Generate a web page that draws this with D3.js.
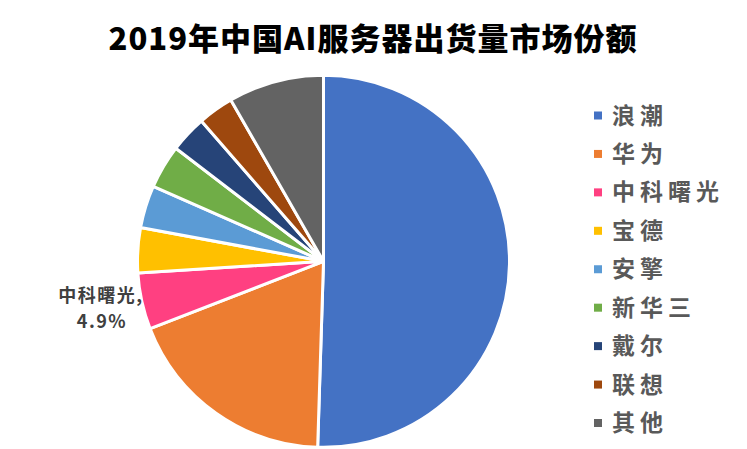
<!DOCTYPE html>
<html>
<head>
<meta charset="utf-8">
<script src="https://cdn.jsdelivr.net/npm/d3@7"></script>
<style>
  body { margin: 0; background: #fff; }
  text { font-family: "Noto Sans CJK SC", sans-serif; }
</style>
</head>
<body>
<div id="chart"></div>
<script>
// 2019年中国AI服务器出货量市场份额 (%)
const vendors = ['浪潮', '华为', '中科曙光', '宝德', '安擎', '新华三', '戴尔', '联想', '其他'];
const shares = [50.5, 18.6, 4.9, 3.9, 3.7, 3.8, 3.2, 3.1, 8.3];
const colors = ['#4472C4', '#ED7D31', '#FF4081', '#FFC000', '#5B9BD5', '#70AD47', '#264478', '#9E480E', '#636363'];

const width = 747;
const height = 449;
const cx = 323.5, cy = 261.3, radius = 186;

const svg = d3.select('#chart')
  .append('svg')
  .attr('width', width)
  .attr('height', height);

svg.append('text')
  .attr('x', 373)
  .attr('y', 50)
  .attr('text-anchor', 'middle')
  .attr('font-size', 31)
  .attr('font-weight', 900)
  .attr('letter-spacing', 1)
  .attr('fill', '#000')
  .text('2019年中国AI服务器出货量市场份额');

const data = vendors.map((v, i) => ({name: v, value: shares[i], color: colors[i]}));

const pie = d3.pie()
  .sort(null)
  .value(d => d.value);

const arc = d3.arc()
  .innerRadius(0)
  .outerRadius(radius);

const g = svg.append('g')
  .attr('transform', `translate(${cx},${cy})`);

const arcs = pie(data);

g.selectAll('path')
  .data(arcs)
  .enter().append('path')
  .attr('d', arc)
  .attr('fill', d => d.data.color)
  .attr('stroke', '#fff')
  .attr('stroke-width', 3)
  .attr('stroke-linejoin', 'round');

// only 中科曙光 carries a data label, outside the slice on the left
const labelled = arcs.filter(d => d.data.name === '中科曙光');
const label = svg.selectAll('.slice-label')
  .data(labelled)
  .enter().append('text')
  .attr('class', 'slice-label')
  .attr('text-anchor', 'middle')
  .attr('font-size', 18)
  .attr('font-weight', 700)
  .attr('letter-spacing', 1.5)
  .attr('fill', '#404040');
label.append('tspan')
  .attr('x', 101)
  .attr('y', 302)
  .text(d => d.data.name + ',');
label.append('tspan')
  .attr('x', 102)
  .attr('y', 328)
  .text(d => d3.format('.1f')(d.data.value) + '%');

// legend
const legendY = d3.scalePoint()
  .domain(vendors)
  .range([115.5, 423]);

const legend = svg.append('g')
  .selectAll('g')
  .data(data)
  .enter().append('g')
  .attr('transform', d => `translate(594,${legendY(d.name)})`);

legend.append('rect')
  .attr('x', 0)
  .attr('y', -4)
  .attr('width', 8)
  .attr('height', 8)
  .attr('fill', d => d.color);

legend.append('text')
  .attr('x', 18)
  .attr('y', 8)
  .attr('font-size', 23)
  .attr('font-weight', 700)
  .attr('letter-spacing', 5)
  .attr('fill', '#595959')
  .text(d => d.name);
</script>
</body>
</html>
